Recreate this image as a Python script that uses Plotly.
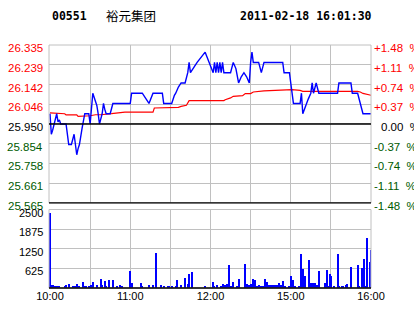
import plotly.graph_objects as go

# ---------------- data ----------------
stock_code = "00551"
stock_name = "裕元集团"
timestamp = "2011-02-18 16:01:30"
prev_close = 25.95

price_levels = [26.335, 26.239, 26.142, 26.046, 25.950, 25.854, 25.758, 25.661, 25.565]
price_labels = ["26.335", "26.239", "26.142", "26.046", "25.950", "25.854", "25.758", "25.661", "25.565"]
pct_labels = ["+1.48\u00a0\u00a0%", "+1.11\u00a0\u00a0%", "+0.74\u00a0\u00a0%", "+0.37\u00a0\u00a0%", "0.00\u00a0\u00a0%",
              "-0.37\u00a0\u00a0%", "-0.74\u00a0\u00a0%", "-1.11\u00a0\u00a0%", "-1.48\u00a0\u00a0%"]
vol_levels = [625, 1250, 1875, 2500]
vol_labels = ["625", "1250", "1875", "2500"]
time_ticks = [0, 30, 60, 90, 120, 150, 180, 210, 240]
time_labels = ["10:00", "", "11:00", "", "12:00", "", "15:00", "", "16:00"]

# price line (minute index from 10:00, price)
price_min = [0, 1, 2, 3, 5, 6, 7, 8, 12, 14, 16, 18, 19, 20, 21, 22, 24, 25, 26, 29, 30, 32, 33, 34, 35, 36, 37,
             39, 40, 41, 42, 45, 46, 47, 60, 61, 69, 74, 77, 84, 85, 91, 93, 94, 96, 98, 101, 103, 104, 105, 110,
             116, 119, 122, 123, 124, 125, 126, 127, 128, 129, 130, 135, 137, 139, 141, 143, 145, 147, 149, 150,
             151, 152, 156, 158, 160, 174, 175, 179, 180, 182, 187, 188, 189, 191, 193, 195, 196, 197, 199, 201,
             215, 216, 225, 226, 230, 232, 234, 240]
price_val = [26.00, 25.90, 25.92, 25.95, 26.00, 25.96, 25.97, 25.95, 25.95, 25.85, 25.85, 25.90, 25.86, 25.80,
             25.83, 25.85, 25.93, 25.96, 26.00, 26.00, 25.95, 26.10, 26.08, 26.07, 26.04, 26.00, 25.95,
             26.00, 26.05, 26.02, 26.00, 26.00, 26.03, 26.05, 26.05, 26.10, 26.10, 26.05, 26.10, 26.10, 26.05,
             26.05, 26.09, 26.10, 26.13, 26.15, 26.15, 26.20, 26.25, 26.20, 26.25,
             26.30, 26.25, 26.20, 26.25, 26.20, 26.25, 26.20, 26.25, 26.20, 26.25, 26.20, 26.20, 26.25, 26.22,
             26.15, 26.18, 26.20, 26.18, 26.15, 26.25,
             26.30, 26.25, 26.25, 26.20, 26.25, 26.25, 26.20, 26.20, 26.15, 26.05, 26.05, 26.10, 26.00, 26.04,
             26.07, 26.10, 26.15, 26.10, 26.15, 26.10,
             26.10, 26.15, 26.15, 26.10, 26.10, 26.05, 26.00, 26.00]

# average price line
avg_min = [0, 11, 12, 20, 21, 26, 30, 34, 38, 46, 56, 77, 78, 96, 98, 102, 104, 130, 131, 135, 137, 144, 146,
           150, 152, 160, 170, 172, 181, 187, 189, 230, 232, 234, 237, 240]
avg_val = [26.004, 26.000, 25.994, 25.994, 25.987, 25.987, 25.990, 25.995, 25.995, 26.000, 26.008, 26.008,
           26.028, 26.031, 26.036, 26.041, 26.064, 26.064, 26.068, 26.077, 26.085, 26.088, 26.098,
           26.098, 26.106, 26.111, 26.114, 26.117, 26.117, 26.114, 26.109, 26.109, 26.106, 26.099, 26.093, 26.090]

# volume bars
vol_min = [0, 1, 2, 4, 5, 7, 11, 12, 14, 17, 19, 20, 21, 22, 25, 26, 27, 29, 31, 32, 35, 38, 39, 41, 42, 44,
           47, 50, 52, 54, 60, 61, 68, 69, 74, 77, 79, 83, 85, 88, 89, 91, 94, 95, 98, 101, 103, 104, 106, 116,
           122, 123, 125, 128, 129, 131, 132, 134, 135, 137, 140, 141, 146, 147, 149, 150, 152, 153, 155, 156,
           158, 159, 161, 162, 164, 165, 167, 168, 170, 171, 173, 174, 176, 179, 180, 182, 183, 186, 188, 189,
           191, 194, 195, 197, 198, 200, 201, 206, 207, 208, 209, 210, 212, 215, 216, 218, 219, 221, 222, 225,
           230, 231, 233, 234, 235, 236, 237, 239, 240]
vol_val = [2400, 106, 106, 74, 74, 74, 74, 106, 137, 74, 74, 137, 74, 74, 211, 74, 74, 74, 106, 201, 106, 296,
           106, 233, 74, 264, 264, 74, 106, 74, 550, 180, 169, 74, 106, 106, 1120, 106, 74, 74, 74, 74, 74, 264,
           106, 328, 159, 455, 518, 74,
           201, 74, 106, 74, 159, 106, 137, 740, 74, 201, 74, 296, 772, 137, 106, 137, 296, 264, 74, 106,
           74, 74, 296, 201, 106, 106, 106, 106, 106, 169, 106, 233, 74, 74, 391, 264, 74, 74, 1089, 613,
           391, 898, 169, 169, 169, 106, 550, 169, 581, 74, 455, 391, 74, 1089, 74, 74, 74, 106, 137, 676,
           740, 74, 645, 233, 930, 74, 1596, 835, 1216]

# ---------------- styling ----------------
RED = "#FF0000"
GREEN = "#005a00"
BLACK = "#000000"
GRID = "#c0c0c0"
BLUE = "#0000FF"
LABEL_FONT = "Arial, Liberation Sans, sans-serif"

L, R, T, B = 49, 371, 45, 288
W, H = 414, 314


def px(xp):
    return (xp - L) / (R - L)


def py(yp):
    return (B - yp) / (B - T)


fig = go.Figure()
fig.add_trace(go.Scatter(x=avg_min, y=avg_val, mode="lines", line=dict(color=RED, width=1.2),
                         xaxis="x", yaxis="y", hoverinfo="skip"))
fig.add_trace(go.Scatter(x=price_min, y=price_val, mode="lines", line=dict(color=BLUE, width=1.4),
                         xaxis="x", yaxis="y", hoverinfo="skip"))
fig.add_trace(go.Bar(x=vol_min, y=vol_val, width=0.8, marker=dict(color=BLUE, line=dict(width=0)),
                     xaxis="x2", yaxis="y2", hoverinfo="skip"))

xcommon = dict(range=[-0.75, 240], tickvals=time_ticks, showgrid=True, gridcolor=GRID, gridwidth=1,
               zeroline=False, showline=False, ticks="", fixedrange=True)

fig.update_layout(
    width=W, height=H,
    margin=dict(l=L, r=W - R, t=T, b=H - B, pad=0),
    paper_bgcolor="white", plot_bgcolor="white",
    showlegend=False,
    bargap=0,
    xaxis=dict(**xcommon, anchor="y", showticklabels=False),
    xaxis2=dict(**xcommon, anchor="y2", ticktext=time_labels, showticklabels=True,
                tickfont=dict(family=LABEL_FONT, size=11, color=BLACK)),
    yaxis=dict(domain=[0.35, 1], range=[price_levels[-1], price_levels[0]], tickvals=price_levels,
               showticklabels=False, showgrid=True, gridcolor=GRID, gridwidth=1, zeroline=False,
               showline=False, ticks="", fixedrange=True),
    yaxis2=dict(domain=[0, 0.323], range=[0, 2500], tickvals=vol_levels, showticklabels=False,
                showgrid=True, gridcolor=GRID, gridwidth=1, zeroline=False, showline=False, ticks="",
                fixedrange=True),
)

shapes = []
# price panel frame
shapes.append(dict(type="rect", xref="x domain", yref="y domain", x0=0, x1=1, y0=0, y1=1,
                   line=dict(color=GRID, width=1), layer="above"))
shapes.append(dict(type="line", xref="x domain", yref="y domain", x0=0, x1=1, y0=0, y1=0,
                   line=dict(color=BLACK, width=1.3), layer="above"))
shapes.append(dict(type="line", xref="x domain", yref="y", x0=0, x1=1, y0=prev_close, y1=prev_close,
                   line=dict(color=BLACK, width=1.3), layer="above"))
# volume panel frame
shapes.append(dict(type="rect", xref="x2 domain", yref="y2 domain", x0=0, x1=1, y0=0, y1=1,
                   line=dict(color=GRID, width=1), layer="above"))
shapes.append(dict(type="line", xref="x2 domain", yref="y2 domain", x0=0, x1=1, y0=0, y1=0,
                   line=dict(color=BLACK, width=1.3), layer="above"))
fig.update_layout(shapes=shapes)

ann = []
for lvl, lab, pct in zip(price_levels, price_labels, pct_labels):
    if lvl > prev_close + 1e-9:
        c = RED
    elif lvl < prev_close - 1e-9:
        c = GREEN
    else:
        c = BLACK
    ann.append(dict(xref="paper", yref="y", x=0, y=lvl, text=lab, showarrow=False, xanchor="right",
                    yanchor="middle", xshift=-4, yshift=-3,
                    font=dict(family=LABEL_FONT, size=11.5, color=c)))
    ann.append(dict(xref="paper", yref="y", x=1, y=lvl, text=pct, showarrow=False, xanchor="left",
                    yanchor="middle", xshift=(7.5 if c == BLACK else 0.5), yshift=-3,
                    font=dict(family=LABEL_FONT, size=11.5, color=c)))
for lvl, lab in zip(vol_levels, vol_labels):
    ann.append(dict(xref="paper", yref="y2", x=0, y=lvl, text=lab, showarrow=False, xanchor="right",
                    yanchor="middle", xshift=-4, yshift=-3,
                    font=dict(family=LABEL_FONT, size=11, color=BLACK)))

HEAD_FONT = "DejaVu Sans Mono, monospace"
ann.append(dict(xref="paper", yref="paper", x=px(50), y=py(16), text="<b>%s</b>" % stock_code, showarrow=False,
                xanchor="left", yanchor="middle", font=dict(family=HEAD_FONT, size=11.5, color=BLACK)))
ann.append(dict(xref="paper", yref="paper", x=px(104), y=py(15.5), text=stock_name, showarrow=False,
                xanchor="left", yanchor="middle", font=dict(family="Noto Sans CJK SC", size=12.5, color=BLACK)))
ann.append(dict(xref="paper", yref="paper", x=px(238), y=py(16), text="<b>%s</b>" % timestamp, showarrow=False,
                xanchor="left", yanchor="middle", font=dict(family=HEAD_FONT, size=11.5, color=BLACK)))
fig.update_layout(annotations=ann)

fig.write_html("out.html", config={"displayModeBar": False})
